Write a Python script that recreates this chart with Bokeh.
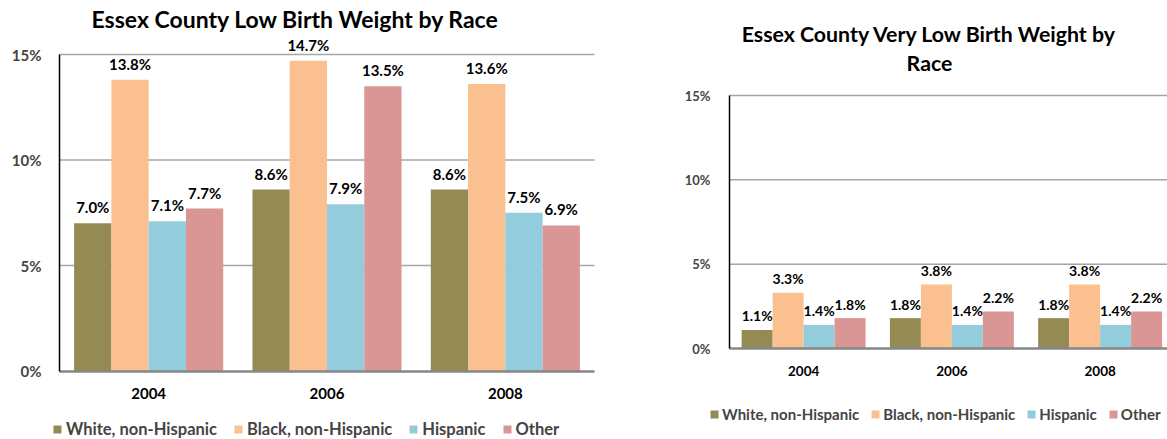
from bokeh.plotting import figure
from bokeh.models import (Range1d, FixedTicker, PrintfTickFormatter, Legend, LegendItem,
                          ColumnDataSource, LinearAxis)
from bokeh.layouts import row
from bokeh.embed import file_html
from bokeh.resources import INLINE
from bokeh.core.properties import value

years = ["2004", "2006", "2008"]
series = ["White, non-Hispanic", "Black, non-Hispanic", "Hispanic", "Other"]
colors = ["#948A54", "#FAC090", "#93CDDD", "#D99694"]

lbw_white = [7.0, 8.6, 8.6]
lbw_black = [13.8, 14.7, 13.6]
lbw_hisp = [7.1, 7.9, 7.5]
lbw_other = [7.7, 13.5, 6.9]

vlbw_white = [1.1, 1.8, 1.8]
vlbw_black = [3.3, 3.8, 3.8]
vlbw_hisp = [1.4, 1.4, 1.4]
vlbw_other = [1.8, 2.2, 2.2]

title_left = ["Essex County Low Birth Weight by Race"]
title_right = ["Essex County Very Low Birth Weight by", "Race"]

y_ticks = [0, 5, 10, 15]
FONT = "Lato"
BAR_W = 0.209
FIG_H = 439
LEG_ITEM_H = 16


def make_chart(title_lines, data, g):
    # g holds page-pixel geometry; the whole figure is one frame
    fig_w = g["fig_right"] - g["fig_left"]
    ppu_x = (g["right"] - g["left"]) / g["ncat_px"]
    ppu_y = (g["zero"] - g["top15"]) / 15.0
    x0 = -(g["left"] - g["fig_left"]) / ppu_x
    x1 = (g["fig_right"] - g["left"]) / ppu_x
    y0 = -(FIG_H - g["zero"]) / ppu_y
    y1 = g["zero"] / ppu_y
    x_end = (g["right"] - g["left"]) / ppu_x

    def xd(px):
        return (px - g["left"]) / ppu_x

    def yd(py):
        return (g["zero"] - py) / ppu_y

    p = figure(frame_width=fig_w, frame_height=FIG_H,
               x_range=Range1d(x0, x1), y_range=Range1d(y0, y1),
               x_axis_location=None, y_axis_location=None,
               output_backend="svg", toolbar_location=None,
               min_border_left=0, min_border_right=0, min_border_top=0, min_border_bottom=0)
    p.outline_line_color = None
    p.title = None
    p.grid.visible = False

    # horizontal gridlines at the non-zero ticks, spanning the plot area only
    grid_y = [t for t in y_ticks if t > 0]
    p.segment(x0=[0] * len(grid_y), x1=[x_end] * len(grid_y), y0=grid_y, y1=grid_y,
              line_color="#A6A6A6", line_width=1.5)

    items = []
    for k, (name, vals, col) in enumerate(zip(series, data, colors)):
        xs = [i + 0.5 + (k - 1.5) * BAR_W for i in range(len(years))]
        src = ColumnDataSource(dict(x=xs, top=vals, lab=[f"{v:.1f}%" for v in vals]))
        r = p.vbar(x="x", top="top", width=BAR_W, source=src, fill_color=col, line_color=None)
        p.text(x="x", y="top", text="lab", source=src, text_align="center",
               text_baseline="middle", y_offset=-g["lab_off"], text_font=value(FONT),
               text_font_style="bold", text_font_size=g["lab_size"], text_color="black")
        items.append(LegendItem(label=name, renderers=[r]))

    # category labels under each group
    cat_src = ColumnDataSource(dict(x=[i + 0.5 for i in range(len(years))],
                                    y=[0] * len(years), t=years))
    p.text(x="x", y="y", text="t", source=cat_src, text_align="center",
           text_baseline="middle", y_offset=g["cat_off"], text_font=value(FONT),
           text_font_style="bold", text_font_size=g["cat_size"], text_color="black")

    for line, (tx, ty) in zip(title_lines, g["title_pos"]):
        p.text(x=[xd(tx)], y=[yd(ty)], text=[line], text_align="center",
               text_baseline="middle", text_font=value(FONT), text_font_style="bold",
               text_font_size=g["title_size"], text_color="black")

    xaxis = LinearAxis(fixed_location=0, bounds=(0, x_end), ticker=FixedTicker(ticks=[]),
                       major_tick_line_color=None, minor_tick_line_color=None,
                       axis_line_color="#868686", axis_line_width=2.5)
    p.add_layout(xaxis, "below")

    yaxis = LinearAxis(fixed_location=0, bounds=(0, 15), ticker=FixedTicker(ticks=y_ticks),
                       formatter=PrintfTickFormatter(format="%d%%"),
                       major_tick_line_color=None, minor_tick_line_color=None,
                       axis_line_color="black", axis_line_width=1.5,
                       major_label_standoff=g["ystand"], major_label_text_font=FONT,
                       major_label_text_font_style="bold",
                       major_label_text_font_size=g["tick_size"])
    p.add_layout(yaxis, "left")

    leg = Legend(items=items, orientation="horizontal",
                 location=(g["leg_x"] - g["fig_left"], FIG_H - g["leg_y"] - LEG_ITEM_H // 2),
                 label_text_font=FONT, label_text_font_style="bold",
                 label_text_font_size=g["leg_size"], glyph_width=10, glyph_height=10,
                 label_height=LEG_ITEM_H, label_standoff=g["leg_stand"],
                 spacing=g["leg_spacing"], padding=0, margin=0,
                 border_line_color=None, background_fill_alpha=0)
    p.add_layout(leg, "center")
    return p


g1 = dict(fig_left=0, fig_right=624, left=59, right=594, ncat_px=3, zero=370.5, top15=54,
          lab_off=16, lab_size="15px", cat_off=22.5, cat_size="15px",
          title_pos=[(295, 18)], title_size="23px", ystand=12, tick_size="15px",
          leg_x=52, leg_y=431, leg_size="16.5px", leg_stand=4, leg_spacing=16)
g2 = dict(fig_left=624, fig_right=1167, left=729, right=1167,
          ncat_px=(1167 - 729) / 148.25, zero=348, top15=95,
          lab_off=14, lab_size="14px", cat_off=22, cat_size="13.5px",
          title_pos=[(929, 33), (929, 62)], title_size="21.3px", ystand=13, tick_size="13px",
          leg_x=709, leg_y=415, leg_size="15px", leg_stand=3, leg_spacing=11)

p1 = make_chart(title_left, [lbw_white, lbw_black, lbw_hisp, lbw_other], g1)
p2 = make_chart(title_right, [vlbw_white, vlbw_black, vlbw_hisp, vlbw_other], g2)

layout = row(p1, p2)
open("out.html", "w").write(file_html(layout, INLINE))
